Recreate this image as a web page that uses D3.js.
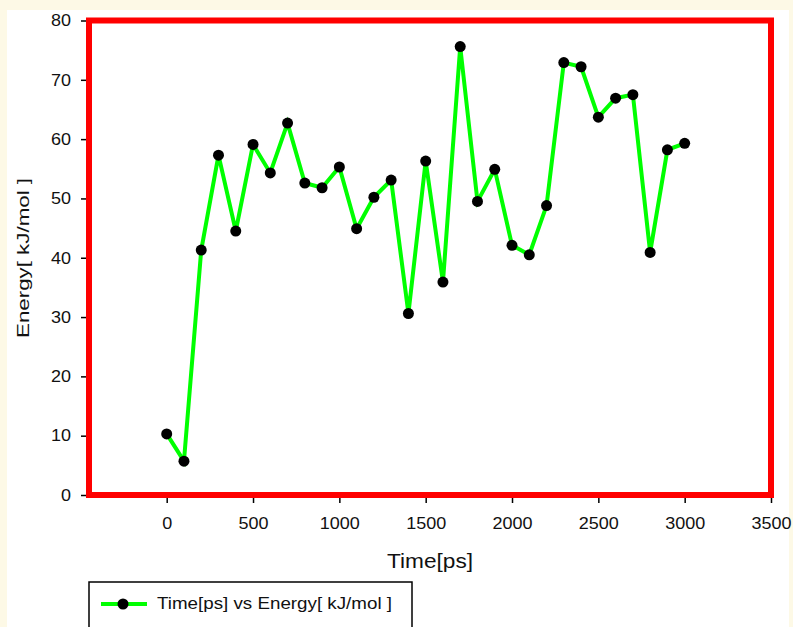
<!DOCTYPE html>
<html>
<head>
<meta charset="utf-8">
<script src="https://cdn.jsdelivr.net/npm/d3@7"></script>
<style>
  body { margin: 0; background: #fdf9e6; }
  svg { display: block; }
  text { font-family: "Liberation Sans", Arial, sans-serif; fill: #111; }
</style>
</head>
<body>
<div id="chart"></div>
<script>
// data
const times = [0, 100, 200, 300, 400, 500, 600, 700, 800, 900, 1000, 1100, 1200, 1300, 1400, 1500,
  1600, 1700, 1800, 1900, 2000, 2100, 2200, 2300, 2400, 2500, 2600, 2700, 2800, 2900, 3000];
const energies = [10.3, 5.7, 41.3, 57.3, 44.5, 59.1, 54.3, 62.7, 52.6, 51.8, 55.3, 44.9, 50.2, 53.1, 30.6, 56.3,
  35.9, 75.6, 49.5, 54.9, 42.1, 40.5, 48.8, 72.9, 72.2, 63.7, 66.9, 67.5, 40.9, 58.2, 59.3];
const xTicks = [0, 500, 1000, 1500, 2000, 2500, 3000, 3500];
const yTicks = [0, 10, 20, 30, 40, 50, 60, 70, 80];
const seriesName = 'Time[ps] vs Energy[ kJ/mol ]';

const W = 793, H = 627;
const plotL = 89, plotR = 771, plotT = 20.5, plotB = 495;

// the original font renders wider than Liberation Sans, stretch glyphs a bit
function stretch(sel, k) {
  sel.each(function () {
    const w = this.getComputedTextLength();
    d3.select(this).attr('textLength', w * k).attr('lengthAdjust', 'spacingAndGlyphs');
  });
}

const svg = d3.select('#chart').append('svg')
  .attr('width', W)
  .attr('height', H);

// white page area
svg.append('rect')
  .attr('x', 7).attr('y', 10)
  .attr('width', 782).attr('height', H - 10)
  .attr('fill', '#fff');

const x = d3.scaleLinear().domain([-450, 3500]).range([plotL, plotR]);
const y = d3.scaleLinear().domain([0, 80]).range([plotB, plotT]);

// axes (black ticks, labels)
const xAxis = svg.append('g')
  .attr('transform', `translate(0,${plotB + 3})`)
  .call(d3.axisBottom(x).tickValues(xTicks).tickSize(5).tickPadding(14).tickFormat(d3.format('d')));
const yAxis = svg.append('g')
  .attr('transform', `translate(${plotL - 3},0)`)
  .call(d3.axisLeft(y).tickValues(yTicks).tickSize(5).tickPadding(10));

[xAxis, yAxis].forEach(a => {
  a.select('.domain').remove();
  a.selectAll('.tick line').attr('stroke', '#000').attr('stroke-width', 1.5);
  a.selectAll('.tick text')
    .style('font-size', '16.5px')
    .style('font-family', '"Liberation Sans", Arial, sans-serif')
    .attr('fill', '#111')
    .call(stretch, 1.09);
});

// red frame
svg.append('rect')
  .attr('x', plotL).attr('y', plotT)
  .attr('width', plotR - plotL).attr('height', plotB - plotT)
  .attr('fill', 'none')
  .attr('stroke', '#ff0000')
  .attr('stroke-width', 6);

// axis titles
svg.append('text')
  .attr('x', 430)
  .attr('y', 568)
  .attr('text-anchor', 'middle')
  .style('font-size', '21px')
  .attr('textLength', 86)
  .attr('lengthAdjust', 'spacingAndGlyphs')
  .text('Time[ps]');

svg.append('text')
  .attr('transform', `translate(29,258) rotate(-90)`)
  .attr('text-anchor', 'middle')
  .style('font-size', '16px')
  .attr('textLength', 160)
  .attr('lengthAdjust', 'spacingAndGlyphs')
  .text('Energy[ kJ/mol ]');

// series
const pts = times.map((t, i) => [t, energies[i]]);

const line = d3.line()
  .x(d => x(d[0]))
  .y(d => y(d[1]));

svg.append('path')
  .datum(pts)
  .attr('d', line)
  .attr('fill', 'none')
  .attr('stroke', '#00ff00')
  .attr('stroke-width', 4)
  .attr('stroke-linejoin', 'miter');

svg.selectAll('.dot')
  .data(pts)
  .enter().append('circle')
  .attr('class', 'dot')
  .attr('cx', d => x(d[0]))
  .attr('cy', d => y(d[1]))
  .attr('r', 5.5)
  .attr('fill', '#000');

// legend
const lg = svg.append('g').attr('transform', 'translate(89,582)');
lg.append('rect')
  .attr('x', 0).attr('y', 0)
  .attr('width', 323).attr('height', 60)
  .attr('fill', '#fff')
  .attr('stroke', '#000')
  .attr('stroke-width', 1.5);
lg.append('line')
  .attr('x1', 12).attr('x2', 58)
  .attr('y1', 22).attr('y2', 22)
  .attr('stroke', '#00ff00')
  .attr('stroke-width', 4);
lg.append('circle')
  .attr('cx', 34).attr('cy', 22).attr('r', 5.5)
  .attr('fill', '#000');
lg.append('text')
  .attr('x', 68).attr('y', 27.3)
  .style('font-size', '17px')
  .attr('textLength', 235)
  .attr('lengthAdjust', 'spacingAndGlyphs')
  .text(seriesName);
</script>
</body>
</html>
